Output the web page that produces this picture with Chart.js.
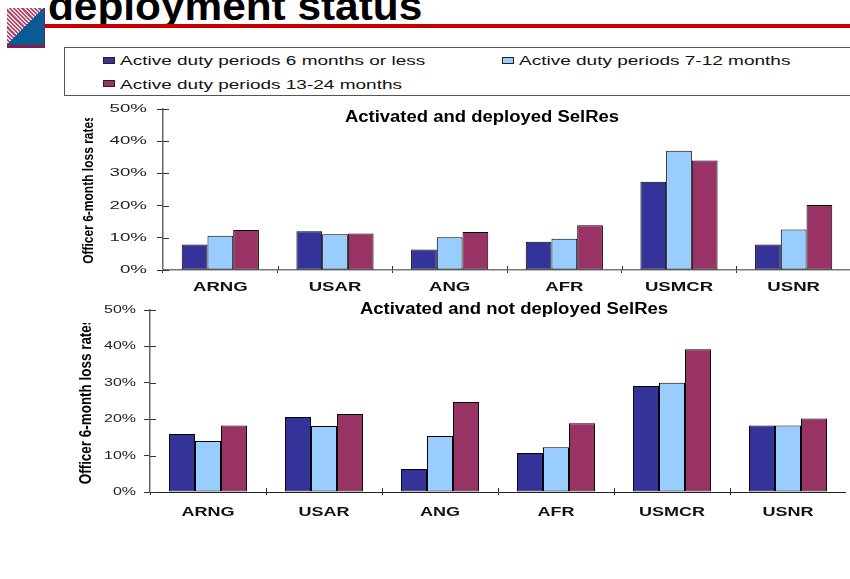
<!DOCTYPE html>
<html><head><meta charset="utf-8">
<script src="https://cdn.jsdelivr.net/npm/chart.js@4"></script>
<style>
html,body{margin:0;padding:0;background:#fff;width:850px;height:579px;overflow:hidden;position:relative;font-family:"Liberation Sans",Arial,sans-serif}
canvas{position:absolute;display:block}
.a{position:absolute;white-space:nowrap}
#heading{left:48px;top:-17px;font-weight:bold;font-size:41px;line-height:47px;color:#000;transform-origin:0 0;transform:scaleX(1.033)}
#rule{left:45px;top:24px;width:805px;height:4px;background:#c80000}
#logo{left:7px;top:8px;width:38px;height:40px;box-sizing:border-box;border-bottom:3px solid #8a1a4a;border-right:1px solid #8a1a4a;background:linear-gradient(135deg,transparent 49.5%,#0a5a96 50%),repeating-linear-gradient(45deg,#b04a70 0 1.5px,#e8d8de 1.5px 3px)}
#legendbox{left:64px;top:47px;width:800px;height:49px;box-sizing:border-box;border:1px solid #555}
.sw{position:absolute;width:12px;height:7px;box-sizing:border-box;border:1px solid #222}
.lt{position:absolute;font-size:12.5px;line-height:14px;color:#111;transform-origin:0 0;transform:scaleX(1.52)}
.ct{position:absolute;font-weight:bold;font-size:16px;line-height:18px;color:#000;transform:translateX(-50%) scaleX(1.155)}
</style></head><body>
<div id="logo" class="a"></div>
<div id="heading" class="a">deployment status</div>
<div id="rule" class="a"></div>
<div id="legendbox" class="a"></div>
<div id="legend"></div>
<canvas id="c1"></canvas>
<canvas id="c2"></canvas>
<div id="t1" class="ct" style="left:481.5px;top:108px"></div>
<div id="t2" class="ct" style="left:513.5px;top:300px"></div>
<script>
const categories = ["ARNG","USAR","ANG","AFR","USMCR","USNR"];
const seriesNames = ["Active duty periods 6 months or less","Active duty periods 7-12 months","Active duty periods 13-24 months"];
const seriesColors = ["#333399","#99CCFF","#993366"];
const deployedShort = [7.9,12,6.4,8.8,27.4,7.9];
const deployedMid   = [10.6,11.1,10.2,9.7,37,12.6];
const deployedLong  = [12.4,11.3,11.8,13.9,34,20.2];
const notDeployedShort = [15.9,20.6,6.3,10.7,29.1,18.3];
const notDeployedMid   = [14,18.1,15.4,12.3,30,18.3];
const notDeployedLong  = [18.3,21.4,24.7,18.9,39.2,20.2];
const yTitle = "Officer 6-month loss rates";
const title1 = "Activated and deployed SelRes";
const title2 = "Activated and not deployed SelRes";

document.getElementById('t1').textContent = title1;
document.getElementById('t2').textContent = title2;
const legendPos = [[103,120,57,54],[502,519,57,54],[103,120,80,78]];
const lg = document.getElementById('legend');
seriesNames.forEach((n,i)=>{
  const [sx,tx,y,ty]=legendPos[i];
  const s=document.createElement('div');s.className='sw';s.style.cssText=`left:${sx}px;top:${y}px;background:${seriesColors[i]}`;
  const t=document.createElement('div');t.className='lt';t.style.cssText=`left:${tx}px;top:${ty}px`;t.textContent=n;
  lg.appendChild(s);lg.appendChild(t);
});

// The reference's text is stretched horizontally (and the axis title squeezed and cut off).
const stretch = (sy,sx,st,clipEnd)=>({id:'stretch',
  beforeDraw(c){const x=c.ctx;if(x.__p)return;x.__p=1;const o=x.fillText.bind(x);
    x.fillText=function(t,a,b,m){
      const isTitle=t===yTitle, k=isTitle?st:(/bold/.test(x.font)?sx:sy);
      x.save();x.translate(a,b);
      if(isTitle){x.beginPath();x.rect(-100,-40,100+clipEnd,80);x.clip();}
      x.scale(k,1);o(t,0,0);x.restore();};}
});
const crossTicks = {id:'crossTicks',afterDraw(c){
  const x=c.ctx,ys=c.scales.y,xs=c.scales.x,a=c.chartArea;
  x.save();x.strokeStyle='#333';x.lineWidth=1;x.beginPath();
  ys.ticks.forEach((t,i)=>{const p=Math.round(ys.getPixelForTick(i))+.5;x.moveTo(a.left,p);x.lineTo(a.left+6,p);});
  const w=xs.getPixelForValue(1)-xs.getPixelForValue(0);
  categories.forEach((_,i)=>{const p=Math.round(xs.getPixelForValue(i)+w/2)+.5;x.moveTo(p,a.bottom-4);x.lineTo(p,a.bottom);});
  x.stroke();x.restore();
}};

function make(id,left,top,w,h,yW,xH,padTop,data,titleFont,xTickPad,yTickPad,xBorder,xBorderW,st){
  const el=document.getElementById(id);
  el.style.left=left+'px';el.style.top=top+'px';el.width=w;el.height=h;
  new Chart(el,{type:'bar',
    data:{labels:categories,datasets:data.map((d,i)=>({label:seriesNames[i],data:d,backgroundColor:seriesColors[i],borderColor:'#000',borderWidth:1,borderSkipped:false,categoryPercentage:0.673,barPercentage:1}))},
    options:{responsive:false,animation:false,
      layout:{padding:{top:padTop,left:0,right:0,bottom:0}},
      plugins:{legend:{display:false},title:{display:false},tooltip:{enabled:false}},
      scales:{
        y:{min:0,max:50,afterFit(s){s.width=yW;s.paddingTop=0;s.paddingBottom=0;},
          ticks:{stepSize:10,callback:v=>v+'%',color:'#222',font:{family:'"Liberation Sans"',size:11},padding:yTickPad},
          grid:{drawOnChartArea:false,drawTicks:true,tickLength:6,color:'#333'},
          border:{color:'#666',width:1.5},
          title:{display:true,text:yTitle,color:'#000',font:{family:'"Liberation Sans"',weight:'bold',size:titleFont},padding:{top:0,bottom:0}}},
        x:{afterFit(s){s.height=xH;s.paddingLeft=0;s.paddingRight=0;},
          ticks:{color:'#111',font:{family:'"Liberation Sans"',weight:'bold',size:12},padding:xTickPad,maxRotation:0,autoSkip:false},
          grid:{drawOnChartArea:false,drawTicks:true,tickLength:3,color:'#333'},
          border:{color:xBorder,width:xBorderW}}
      }},
    plugins:[stretch(st[0],st[1],st[2],st[3]),crossTicks]});
}
make('c1',80,100,771,200,83,30,9,[deployedShort,deployedMid,deployedLong],15,7,10,'#777',1.5,[1.7,1.55,0.8,71.5]);
make('c2',77,300,769,225,73,33,10,[notDeployedShort,notDeployedMid,notDeployedLong],16,10,8,'#222',1,[1.45,1.5,0.84,78]);
</script></body></html>
